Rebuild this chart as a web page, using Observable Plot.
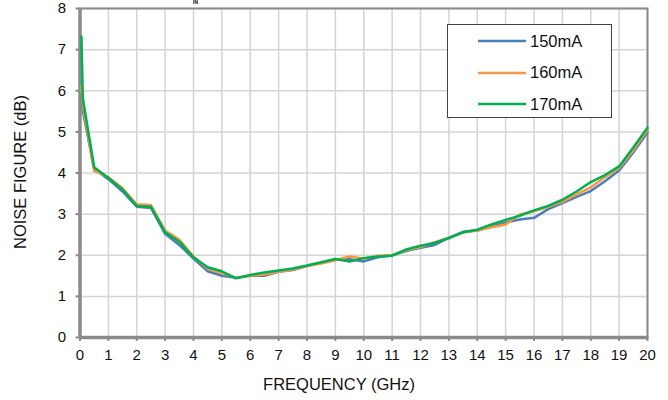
<!DOCTYPE html>
<html>
<head>
<meta charset="utf-8">
<script src="https://cdn.jsdelivr.net/npm/d3@7"></script>
<script src="https://cdn.jsdelivr.net/npm/@observablehq/plot@0.6"></script>
<style>
  body { margin: 0; background: #fff; }
  #wrap { position: relative; width: 668px; height: 400px; overflow: hidden; font-family: "Liberation Sans", Arial, sans-serif; color: #111; }
  #legend { position: absolute; left: 447px; top: 24px; width: 165px; height: 94px; border: 1.5px solid #404040; background: #fff; box-sizing: border-box; }
  .item { position: absolute; left: 30px; height: 20px; display: flex; align-items: center; font-size: 16.5px; color: #111; }
  .item svg { margin-right: 4px; }
  #cut { position: absolute; left: 193px; top: 0px; font-size: 5px; line-height: 1; font-weight: bold; color: #000; }
  .axt { position: absolute; font-size: 16.5px; white-space: nowrap; line-height: 1; }
  #xt { left: 339px; top: 384px; transform: translate(-50%, -50%); }
  #yt { left: 20px; top: 172px; transform: translate(-50%, -50%) rotate(-90deg); }
</style>
</head>
<body>
<div id="wrap"><div id="cut">IN</div></div>
<script>
const freq = [0.05, 0.1, 0.5, 1, 1.5, 2, 2.5, 3, 3.5, 4, 4.5, 5, 5.5, 6, 6.5, 7, 7.5, 8, 8.5, 9, 9.5, 10, 10.5, 11, 11.5, 12, 12.5, 13, 13.5, 14, 14.5, 15, 15.5, 16, 16.5, 17, 17.5, 18, 18.5, 19, 19.5, 20];
const nf150 = [5.9, 5.5, 4.1, 3.85, 3.55, 3.18, 3.15, 2.52, 2.25, 1.92, 1.61, 1.5, 1.45, 1.5, 1.5, 1.6, 1.64, 1.74, 1.82, 1.9, 1.9, 1.85, 1.95, 2.0, 2.1, 2.18, 2.25, 2.42, 2.57, 2.6, 2.7, 2.8, 2.87, 2.91, 3.12, 3.27, 3.42, 3.56, 3.8, 4.06, 4.5, 4.99];
const nf160 = [6.1, 5.65, 4.05, 3.9, 3.63, 3.24, 3.22, 2.6, 2.38, 1.97, 1.67, 1.57, 1.45, 1.5, 1.53, 1.6, 1.65, 1.74, 1.8, 1.88, 1.97, 1.92, 1.99, 2.0, 2.12, 2.2, 2.32, 2.42, 2.55, 2.6, 2.68, 2.75, 2.99, 3.07, 3.18, 3.3, 3.48, 3.65, 3.9, 4.12, 4.55, 5.05];
const nf170 = [7.32, 5.81, 4.14, 3.88, 3.6, 3.2, 3.18, 2.56, 2.33, 1.95, 1.71, 1.61, 1.44, 1.52, 1.58, 1.63, 1.68, 1.75, 1.83, 1.91, 1.85, 1.93, 1.97, 1.99, 2.14, 2.23, 2.3, 2.42, 2.56, 2.62, 2.75, 2.86, 2.96, 3.09, 3.2, 3.35, 3.55, 3.78, 3.95, 4.16, 4.62, 5.1];
const seriesNames = ["150mA", "160mA", "170mA"];
const seriesColors = ["#4a7ebb", "#f79646", "#00b050"];
const xTicks = d3.range(0, 21, 1);
const yTicks = d3.range(0, 9, 1);
const xTitle = "FREQUENCY (GHz)";
const yTitle = "NOISE FIGURE (dB)";

const allSeries = [nf150, nf160, nf170];
const rows = [];
allSeries.forEach((vals, s) => vals.forEach((v, i) => rows.push({f: freq[i], nf: v, s: seriesNames[s]})));

const chart = Plot.plot({
  width: 668,
  height: 400,
  marginLeft: 79.5,
  marginRight: 21,
  marginTop: 8,
  marginBottom: 63,
  style: { fontFamily: "'Liberation Sans', Arial, sans-serif", fontSize: "15px", color: "#111", background: "#fff" },
  x: { domain: [0, 20] },
  y: { domain: [0, 8] },
  color: { domain: seriesNames, range: seriesColors },
  marks: [
    Plot.gridX(xTicks, { stroke: "#d4d4d4", strokeOpacity: 1, strokeWidth: 1.5 }),
    Plot.gridY(yTicks, { stroke: "#d4d4d4", strokeOpacity: 1, strokeWidth: 1.5 }),
    Plot.frame({ stroke: "#8a8a8a", strokeWidth: 2 }),
    Plot.axisX({ ticks: xTicks, tickSize: 4, tickPadding: 8, stroke: "#8a8a8a", strokeWidth: 2, fontSize: 15, label: null }),
    Plot.axisY({ ticks: yTicks, tickSize: 4, tickPadding: 10, stroke: "#8a8a8a", strokeWidth: 2, fontSize: 15, label: null }),
    Plot.ruleX([0], { stroke: "#8a8a8a", strokeWidth: 3.5 }),
    Plot.ruleY([0], { stroke: "#8a8a8a", strokeWidth: 3.5 }),
    Plot.line(rows, { x: "f", y: "nf", z: "s", stroke: "s", strokeWidth: 2.5, strokeLinejoin: "round" })
  ]
});
const wrap = document.getElementById("wrap");
wrap.insertBefore(chart, wrap.firstChild);
chart.style.position = "absolute";
chart.style.left = "0"; chart.style.top = "0";

const xt = document.createElement("div");
xt.className = "axt"; xt.id = "xt"; xt.textContent = xTitle;
wrap.appendChild(xt);
const yt = document.createElement("div");
yt.className = "axt"; yt.id = "yt"; yt.textContent = yTitle;
wrap.appendChild(yt);

const legend = document.createElement("div");
legend.id = "legend";
seriesNames.forEach((n, i) => {
  const it = document.createElement("div");
  it.className = "item";
  it.style.top = (6 + i * 31.5) + "px";
  it.innerHTML = `<svg width="48" height="6"><line x1="0" y1="3" x2="48" y2="3" stroke="${seriesColors[i]}" stroke-width="2.5"/></svg>${n}`;
  legend.appendChild(it);
});
wrap.appendChild(legend);
</script>
</body>
</html>
